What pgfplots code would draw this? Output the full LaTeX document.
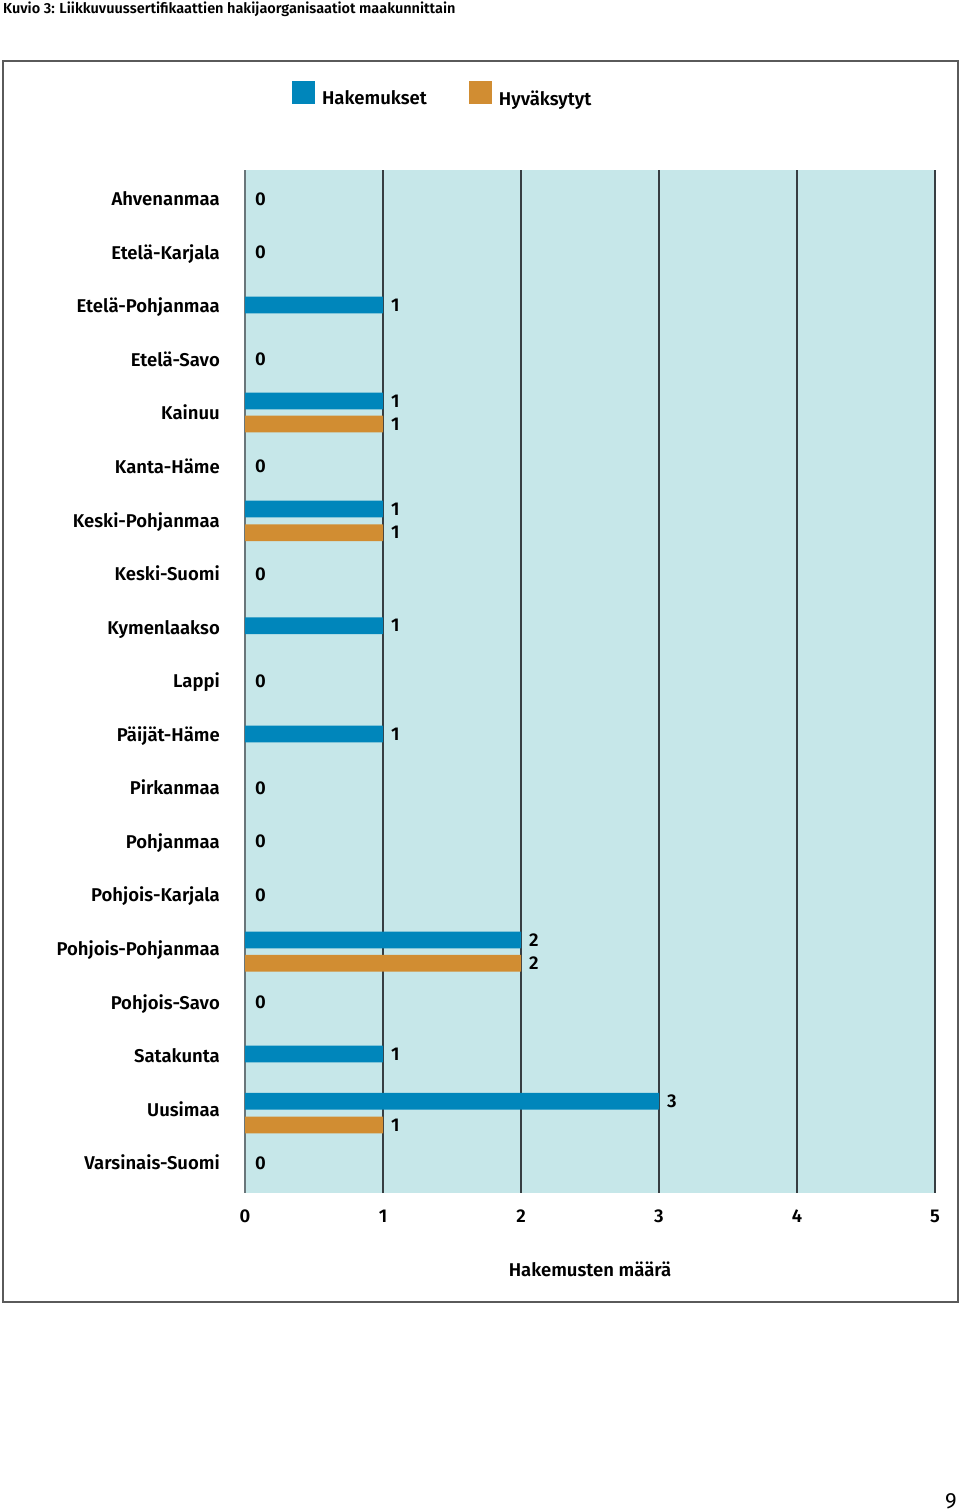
\documentclass[border=0pt]{standalone}
\usepackage{fontspec}
\setmainfont{Fira Sans}[BoldFont={Fira Sans SemiBold}]
\usepackage{pgfplots}
\pgfplotsset{compat=1.18}
\definecolor{hak}{RGB}{0,134,187}
\definecolor{hyv}{RGB}{209,141,50}
\definecolor{bgc}{RGB}{198,231,233}
\definecolor{gridc}{RGB}{55,62,66}
\definecolor{zeroc}{RGB}{105,118,122}
\definecolor{framec}{RGB}{90,90,90}
\newcommand{\lab}{\fontsize{18.5}{22}\selectfont\bfseries}
\begin{document}
\begin{tikzpicture}
\useasboundingbox (0,0) rectangle (960pt,-1512pt);
\fill[white] (0,0) rectangle (960pt,-1512pt);
\node[anchor=west, inner sep=0pt, font=\fontsize{14.5}{18}\selectfont\bfseries] at (3pt,-9pt) {Kuvio 3: Liikkuvuussertifikaattien hakijaorganisaatiot maakunnittain};
\draw[line width=1.5pt, framec] (3pt,-61pt) rectangle (958pt,-1302pt);
\node[anchor=center, inner sep=0pt, font=\fontsize{22}{24}\selectfont] at (951pt,-1501pt) {9};
\begin{axis}[
  at={(245pt,-1193pt)}, anchor=south west,
  scale only axis, width=690pt, height=1023pt,
  xmin=0, xmax=5, ymin=-0.541, ymax=18.56, y dir=reverse,
  axis background/.style={fill=bgc},
  axis line style={draw=none},
  xtick={1,2,3,4,5},
  extra x ticks={0},
  extra x tick style={grid style={zeroc, line width=2pt}},
  ytick={0,...,18},
  yticklabels={Ahvenanmaa,Etelä-Karjala,Etelä-Pohjanmaa,Etelä-Savo,Kainuu,Kanta-Häme,Keski-Pohjanmaa,Keski-Suomi,Kymenlaakso,Lappi,Päijät-Häme,Pirkanmaa,Pohjanmaa,Pohjois-Karjala,Pohjois-Pohjanmaa,Pohjois-Savo,Satakunta,Uusimaa,Varsinais-Suomi},
  major tick length=0pt,
  xmajorgrids, grid style={gridc, line width=1.3pt},
  /pgf/number format/assume math mode=true,
  tick label style={font=\lab, inner sep=0pt},
  xticklabel style={anchor=north, yshift=-17pt},
  yticklabel style={anchor=base east, xshift=-25pt, yshift=-6.7pt},
  xlabel={Hakemusten määrä},
  every axis x label/.style={at={(axis description cs:0.5,0)}, anchor=base, yshift=-83pt, font=\lab, inner sep=0pt},
  legend style={at={(axis description cs:0.068,1.0733)}, anchor=west, draw=none, fill=none, inner sep=0pt, font=\lab, legend columns=2, /tikz/every even column/.append style={column sep=40pt}},
  legend cell align=left,
  clip=false,
]
\addplot[xbar, bar shift=0pt, bar width=16.7pt, draw=none, fill=hak,
  legend image code/.code={\fill[hak] (0pt,-6pt) rectangle (23pt,17pt); \path (28pt,0pt);},
  nodes near coords, point meta=x,
  nodes near coords style={anchor=west, inner sep=0pt, xshift=8pt, font=\lab, text=black}]
  coordinates {(1,1.979) (1,3.771) (1,5.788) (1,7.967) (1,9.989) (2,13.835) (1,15.963) (3,16.846)};
\addlegendentry{Hakemukset}
\addplot[xbar, bar shift=0pt, bar width=16.7pt, draw=none, fill=hyv,
  legend image code/.code={\fill[hyv] (0pt,-6pt) rectangle (23pt,17pt); \path (28pt,0pt);},
  nodes near coords, point meta=x,
  nodes near coords style={anchor=west, inner sep=0pt, xshift=8pt, font=\lab, text=black}]
  coordinates {(1,4.201) (1,6.230) (2,14.270) (1,17.289)};
\addlegendentry{Hyväksytyt}
\addplot[forget plot, only marks, mark=*, mark size=0pt, mark options={draw=none, fill=none},
  nodes near coords, point meta=x,
  nodes near coords style={anchor=west, inner sep=0pt, xshift=10pt, font=\lab, text=black}]
  coordinates {(0,0) (0,1) (0,3) (0,5) (0,7) (0,9) (0,11) (0,12) (0,13) (0,15) (0,18)};
\end{axis}
\end{tikzpicture}
\end{document}
